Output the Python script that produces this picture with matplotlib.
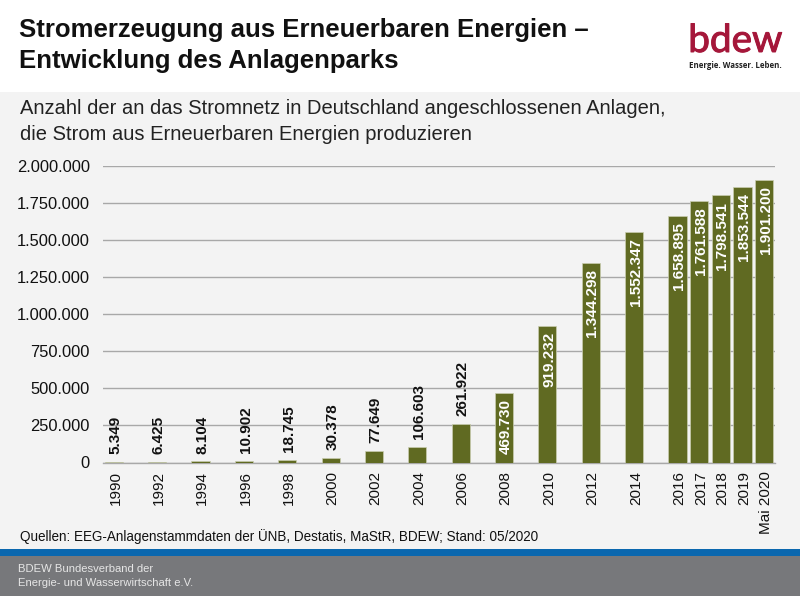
import matplotlib
matplotlib.use("Agg")
import matplotlib.pyplot as plt
import matplotlib.patheffects as pe
from matplotlib.patches import Rectangle
from matplotlib.transforms import ScaledTranslation

years = [1990, 1992, 1994, 1996, 1998, 2000, 2002, 2004, 2006, 2008, 2010, 2012, 2014, 2016, 2017, 2018, 2019, 2020]
year_labels = ["1990", "1992", "1994", "1996", "1998", "2000", "2002", "2004", "2006", "2008", "2010", "2012", "2014",
               "2016", "2017", "2018", "2019", "Mai 2020"]
anlagen = [5349, 6425, 8104, 10902, 18745, 30378, 77649, 106603, 261922, 469730, 919232, 1344298, 1552347,
           1658895, 1761588, 1798541, 1853544, 1901200]
y_ticks = [0, 250000, 500000, 750000, 1000000, 1250000, 1500000, 1750000, 2000000]

W, H = 800, 596
plt.rcParams['font.family'] = ['Liberation Sans', 'DejaVu Sans']


def fmt(v):
    return f"{v:,}".replace(",", ".")


def px_text(fig, x, y, s, px, **kw):
    # x, y in picture pixels, size in pixels
    return fig.text(x / W, 1 - y / H, s, fontsize=px * 0.72, **kw)


def px_rect(fig, x, y, w, h, color):
    fig.add_artist(Rectangle((x / W, 1 - (y + h) / H), w / W, h / H, transform=fig.transFigure,
                             facecolor=color, edgecolor='none', zorder=-5))


fig = plt.figure(figsize=(W / 100, H / 100), dpi=100, facecolor='white')
px_rect(fig, 0, 92, W, 457, '#f3f3f3')
px_rect(fig, 0, 549, W, 7, '#0a67ae')
px_rect(fig, 0, 556, W, 40, '#77787b')

ax = fig.add_axes([103 / W, 1 - 462.5 / H, 672 / W, 297 / H])
ax.patch.set_alpha(0)
ax.bar(years, anlagen, width=0.84, color='#606a22', edgecolor='#c9cdb0', linewidth=0.5, zorder=3)
ax.set_xlim(1989.5, 2020.5)
ax.set_ylim(0, 2000000)
ax.set_yticks(y_ticks, [fmt(v) for v in y_ticks], fontsize=11.9, color='#111111')
ax.set_xticks(years, year_labels, rotation=90, fontsize=11, color='#111111')
ax.tick_params(length=0)
ax.tick_params(axis='y', pad=9.5)
ax.tick_params(axis='x', pad=6)
shift = ScaledTranslation(1.2 / 72, 0, fig.dpi_scale_trans)
for lab in ax.get_xticklabels():
    lab.set_transform(lab.get_transform() + shift)
ax.grid(axis='y', color='#a8a8a8', linewidth=1.0, zorder=1)
for s in ['top', 'left', 'right']:
    ax.spines[s].set_visible(False)
ax.spines['bottom'].set_color('#a8a8a8')
ax.spines['bottom'].set_linewidth(1.0)

for yr, val in zip(years, anlagen):
    inside = val > 400000
    ax.annotate(fmt(val), (yr, val), xytext=(1.2, -4.5 if inside else 5.5), textcoords='offset points',
                rotation=90, ha='center', va='top' if inside else 'bottom',
                fontsize=11, fontweight='bold', color='white' if inside else '#111111', zorder=4)

px_text(fig, 19, 30, "Stromerzeugung aus Erneuerbaren Energien –", 25.7, fontweight='bold', va='center', color='#111111')
px_text(fig, 19, 61, "Entwicklung des Anlagenparks", 25.7, fontweight='bold', va='center', color='#111111')
px_text(fig, 20, 109, "Anzahl der an das Stromnetz in Deutschland angeschlossenen Anlagen,", 20.15, va='center', color='#222222')
px_text(fig, 20, 134, "die Strom aus Erneuerbaren Energien produzieren", 20.15, va='center', color='#222222')
px_text(fig, 20, 537, "Quellen: EEG-Anlagenstammdaten der ÜNB, Destatis, MaStR, BDEW; Stand: 05/2020", 13.5, va='center', color='#111111')
px_text(fig, 18, 569.5, "BDEW Bundesverband der", 11.2, va='center', color='#e6e6e6')
px_text(fig, 18, 582.5, "Energie- und Wasserwirtschaft e.V.", 11.2, va='center', color='#e6e6e6')

# logo as text
logo = px_text(fig, 735.5, 52, "bdew", 38.7, family='Lato', va='baseline', ha='center', color='#a5173a')
logo.set_path_effects([pe.withStroke(linewidth=0.7, foreground='#a5173a')])
px_text(fig, 735.5, 65.5, "Energie. Wasser. Leben.", 7.9, family='Open Sans', fontweight='bold', va='center', ha='center', color='#222222')

fig.savefig("out.png", dpi=100)
